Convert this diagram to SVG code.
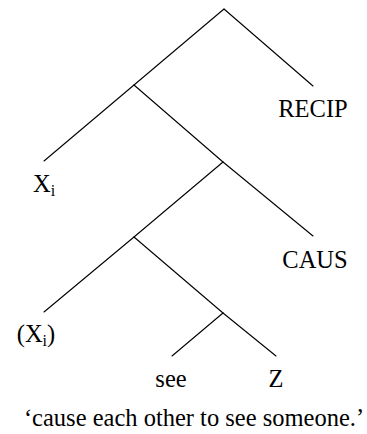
<svg xmlns="http://www.w3.org/2000/svg" width="367" height="434" viewBox="0 0 367 434">
<style>
.e{stroke:#000;stroke-width:1.1;fill:none;stroke-linecap:round}
.t{font-family:"Liberation Serif","Times New Roman",serif;font-size:24.5px;fill:#000;text-anchor:middle}
.sub{font-size:16px}
</style>
<rect width="367" height="434" fill="#fff"/>
<g id="connectors">
<line class="e" x1="224" y1="9" x2="313" y2="86"/>
<line class="e" x1="224" y1="9" x2="134" y2="85"/>
<line class="e" x1="134" y1="85" x2="44" y2="161"/>
<line class="e" x1="134" y1="85" x2="223" y2="162"/>
<line class="e" x1="223" y1="162" x2="313" y2="236"/>
<line class="e" x1="223" y1="162" x2="134" y2="237"/>
<line class="e" x1="134" y1="237" x2="44" y2="312"/>
<line class="e" x1="134" y1="237" x2="223" y2="313"/>
<line class="e" x1="223" y1="313" x2="172" y2="356"/>
<line class="e" x1="223" y1="313" x2="276" y2="356"/>
</g>
<g id="recip"><text class="t" x="313" y="117">RECIP</text></g>
<g id="xi"><text class="t" x="44" y="192">X<tspan class="sub" dy="4">i</tspan></text></g>
<g id="caus"><text class="t" x="315" y="268">CAUS</text></g>
<g id="xi2"><text class="t" x="36" y="342">(X<tspan class="sub" dy="4">i</tspan><tspan dy="-4">)</tspan></text></g>
<g id="see"><text class="t" x="171" y="387">see</text></g>
<g id="z"><text class="t" x="276" y="387">Z</text></g>
<g id="caption"><text class="t" x="194" y="426">‘cause each other to see someone.’</text></g>
</svg>
